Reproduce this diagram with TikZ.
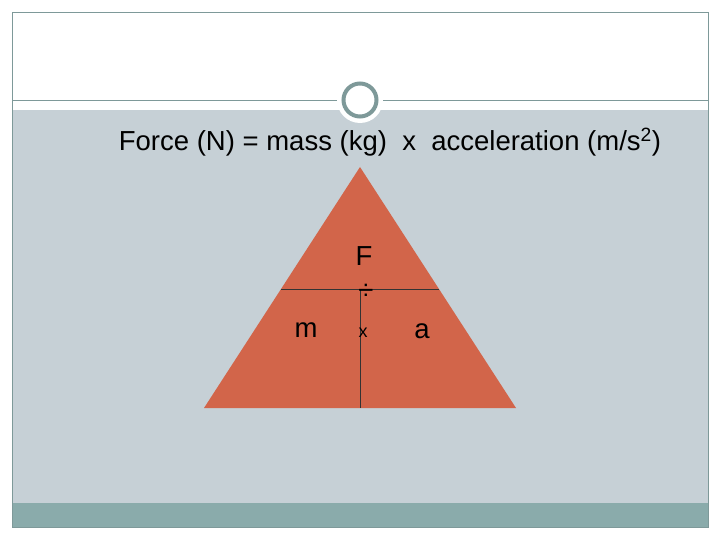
\documentclass[tikz,border=0pt]{standalone}
\usepackage{fontspec}
\setmainfont{Liberation Sans}
\usetikzlibrary{positioning}
\definecolor{slidegray}{HTML}{C6D0D6}
\definecolor{slideteal}{HTML}{8AABAB}
\definecolor{slideline}{HTML}{7E9999}
\definecolor{trired}{HTML}{D2654A}
\tikzset{
    px/.style={x=1pt,y=-1pt},
    label text/.style={font=\fontsize{27.5}{32}\selectfont, inner sep=0pt},
    divider/.style={draw=black!80, line width=0.8pt}
}
\begin{document}
\begin{tikzpicture}[px]
    \useasboundingbox (0,0) rectangle (720,540);
    % slide background
    \fill[white] (0,0) rectangle (720,540);
    \fill[slidegray] (12,110) rectangle (708,503);
    \fill[slideteal] (12,503) rectangle (708,527);
    \draw[slideline, line width=0.6pt] (12,12) rectangle (708,527);
    \draw[slideline, line width=0.8pt] (12,100) -- (708,100);
    \fill[white] (360,100) circle (23);
    \draw[slideline, line width=4pt, fill=white] (360,100) circle (16.5);
    % title
    \node[label text] (title) at (390,142) {Force (N) = mass (kg)\ \ x\ \ acceleration (m/s\textsuperscript{2})};
    % triangle
    \coordinate (apex) at (360,167);
    \coordinate (bl) at (204,408);
    \coordinate (br) at (516,408);
    \fill[trired] (apex) -- (bl) -- (br) -- cycle;
    \coordinate (hl) at (281,289);
    \coordinate (hr) at (439,289);
    \coordinate (vt) at (360,289);
    \coordinate (vb) at (360,408);
    \draw[divider] (hl) -- (hr);
    \draw[divider] (vt) -- (vb);
    \node[label text] (F) at (364,256) {F};
    \node[label text] (div) at (366,292) {÷};
    \node[label text] (m) at (306,330) {m};
    \node[label text, font=\fontsize{18}{20}\selectfont] (x) at (363,333) {x};
    \node[label text] (a) at (422,331) {a};
\end{tikzpicture}
\end{document}
